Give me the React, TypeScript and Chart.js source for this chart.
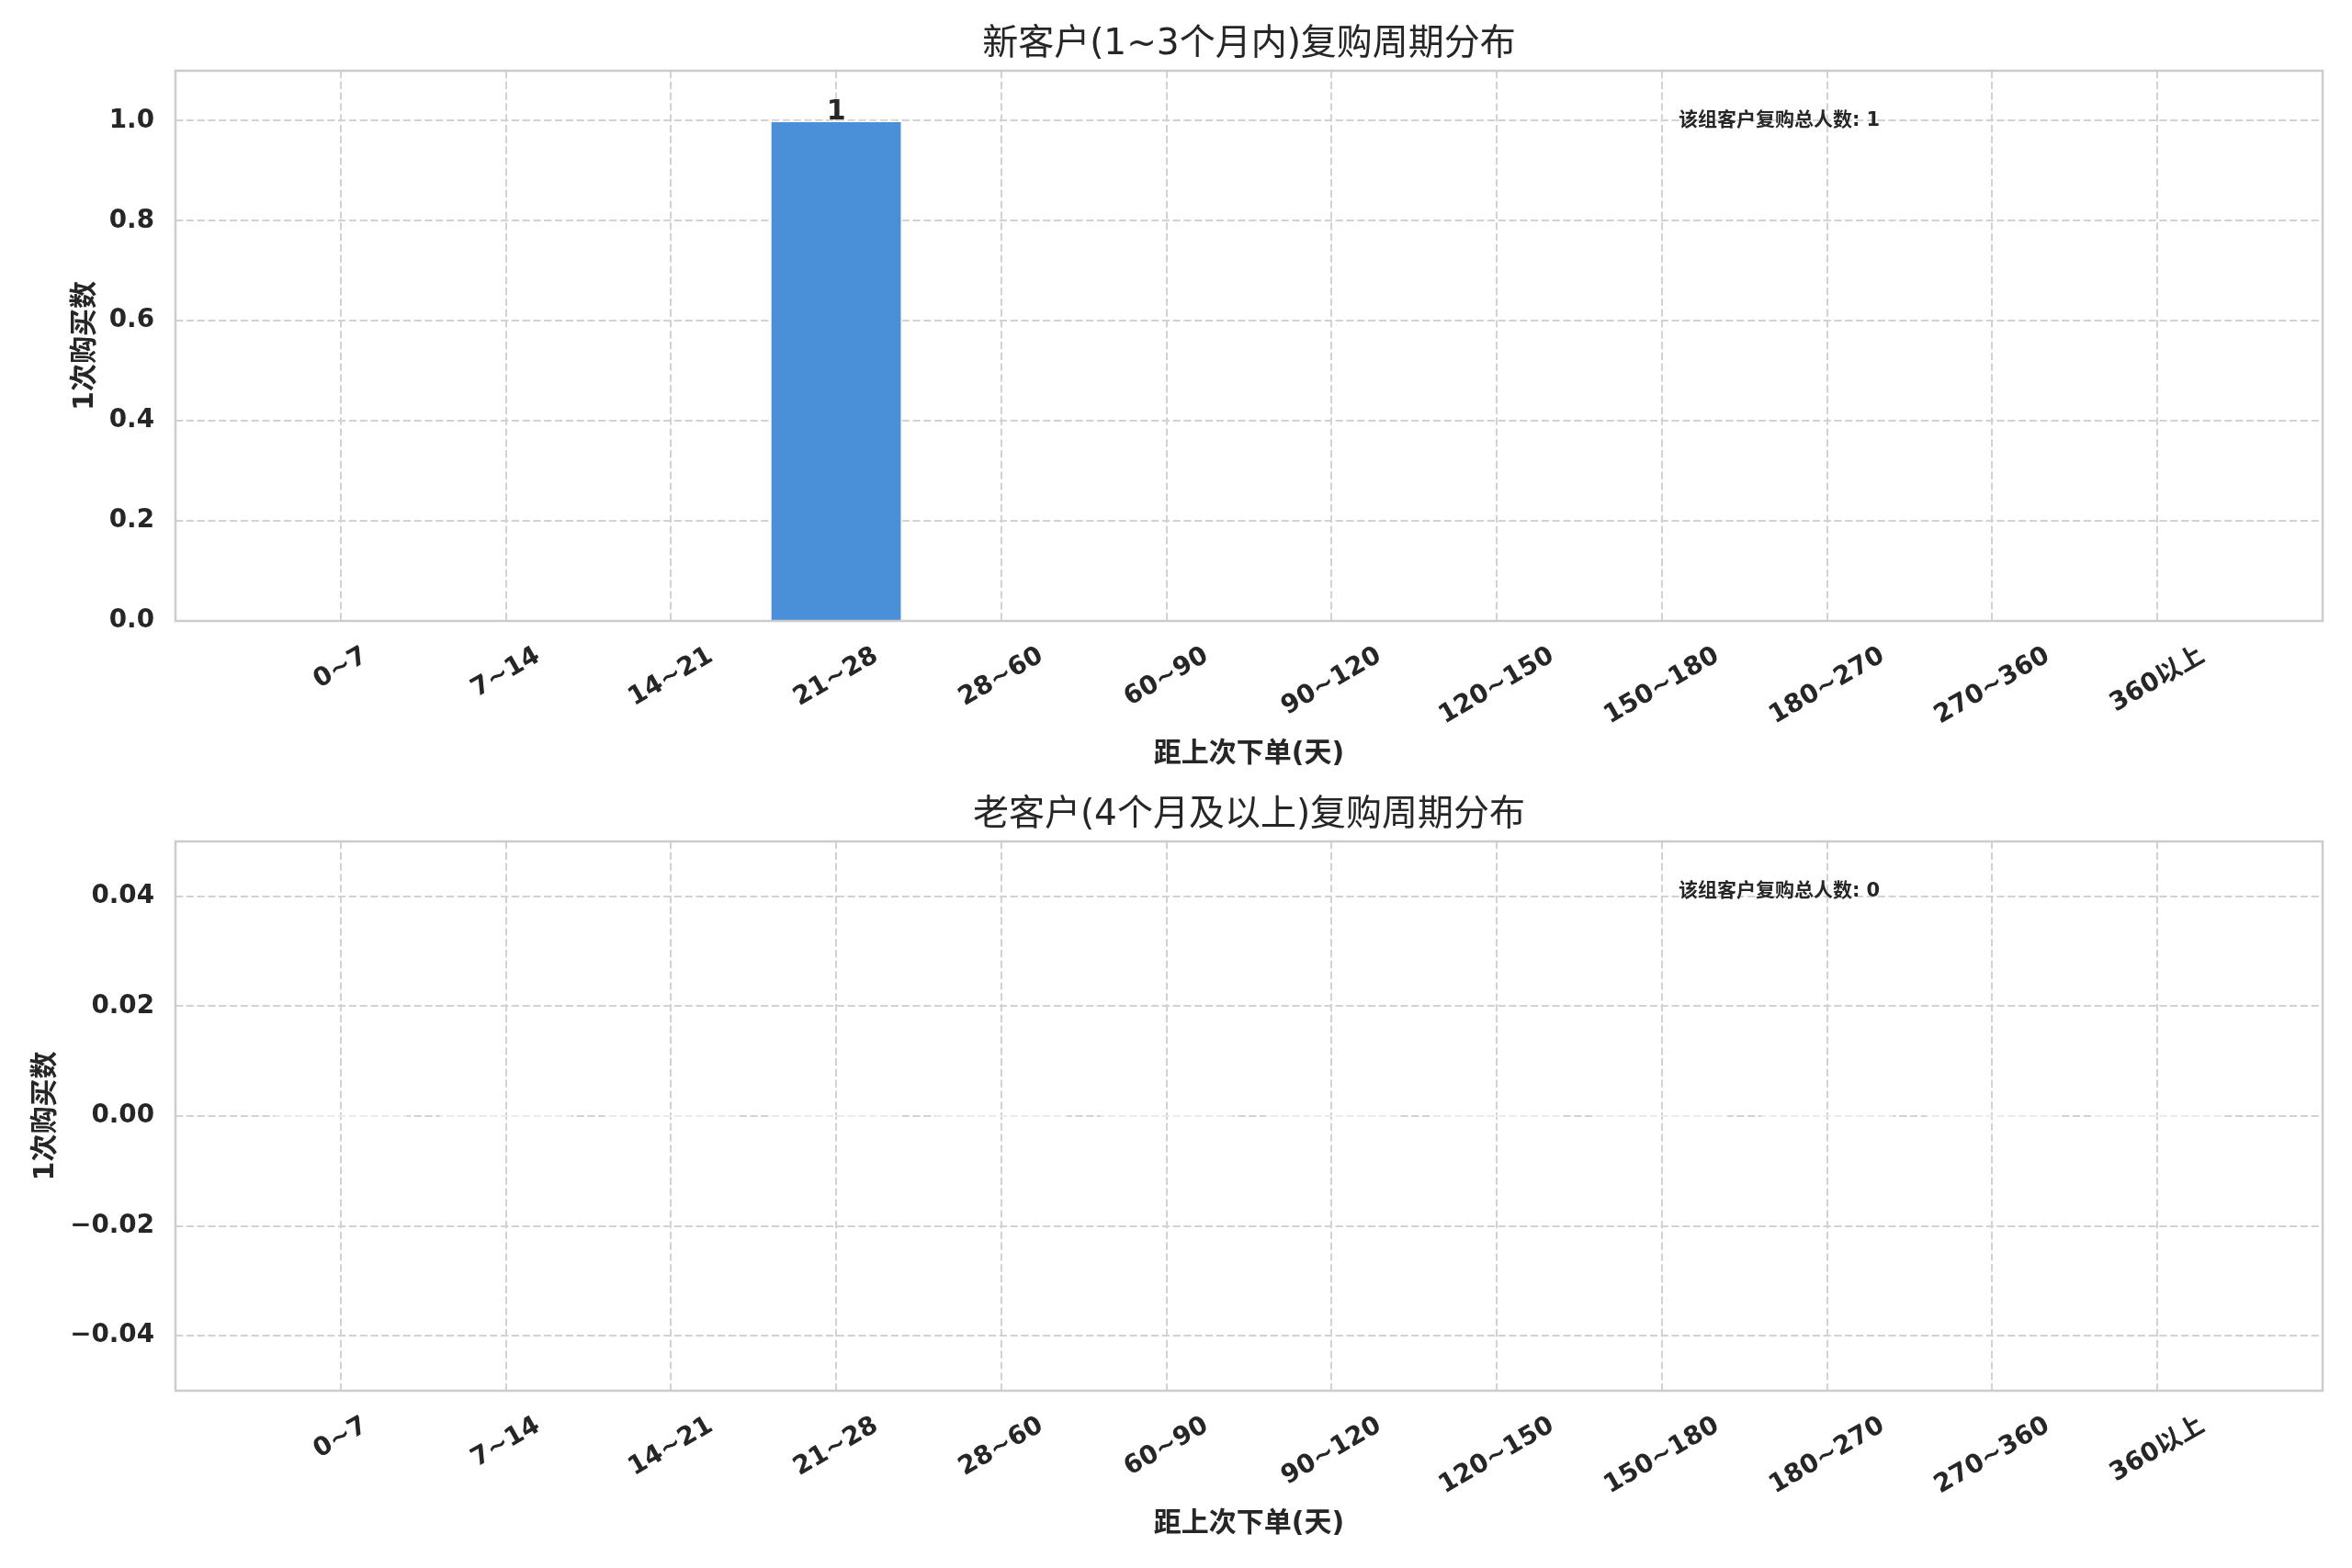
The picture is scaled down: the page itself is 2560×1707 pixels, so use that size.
import React, { useEffect, useRef } from "react";
import { Chart, registerables } from "chart.js";

Chart.register(...registerables);

// ---------- data ----------
const CATEGORIES = ["0~7", "7~14", "14~21", "21~28", "28~60", "60~90", "90~120", "120~150", "150~180", "180~270", "270~360", "360以上"];
const TOP_VALUES = [0, 0, 0, 1, 0, 0, 0, 0, 0, 0, 0, 0];
const BOTTOM_VALUES = [0, 0, 0, 0, 0, 0, 0, 0, 0, 0, 0, 0];
const TOP_Y_TICKS = [0, 0.2, 0.4, 0.6, 0.8, 1.0];
const BOTTOM_Y_TICKS = [-0.04, -0.02, 0, 0.02, 0.04];
const TOP_TITLE = "新客户(1~3个月内)复购周期分布";
const BOTTOM_TITLE = "老客户(4个月及以上)复购周期分布";
const X_LABEL = "距上次下单(天)";
const Y_LABEL = "1次购买数";
const ANNOT_LABEL = "该组客户复购总人数";
const TOP_TOTAL = 1;
const BOTTOM_TOTAL = 0;

// ---------- style ----------
const FONT = '"DejaVu Sans", "Noto Sans CJK SC", sans-serif';
const TEXT = "#262626";
const GRID = "#d2d2d2";
const SPINE = "#cccccc";
const BAR = "#4A90D9";
const W = 2560;

type PanelProps = {
  height: number;
  areaTop: number;
  areaBottom: number;
  values: number[];
  yTicks: number[];
  yMin: number;
  yMax: number;
  decimals: number;
  title: string;
  total: number;
};

function fmt(v: number, d: number) {
  return v.toFixed(d).replace("-", "\u2212");
}

function Panel(p: PanelProps) {
  const ref = useRef<HTMLCanvasElement | null>(null);
  useEffect(() => {
    if (!ref.current) return;
    const tickFont = 27.8;
    const overlay = {
      id: "overlay",
      afterDatasetsDraw(chart: any) {
        const ctx = chart.ctx;
        const area = chart.chartArea;
        const meta = chart.getDatasetMeta(0);
        ctx.save();
        meta.data.forEach((el: any, i: number) => {
          const v = p.values[i];
          if (v === 0 && el.y < area.bottom - 3) {
            ctx.strokeStyle = "rgba(255,255,255,0.75)";
            ctx.lineWidth = 1.3;
            ctx.beginPath();
            ctx.moveTo(el.x - el.width / 2, el.y);
            ctx.lineTo(el.x + el.width / 2, el.y);
            ctx.stroke();
          }
          if (v > 0) {
            ctx.fillStyle = TEXT;
            ctx.font = `bold 30px ${FONT}`;
            ctx.textAlign = "center";
            ctx.textBaseline = "alphabetic";
            ctx.fillText(String(v), el.x, el.y - 1);
          }
        });
        ctx.restore();
      },
      afterDraw(chart: any) {
        const ctx = chart.ctx;
        const area = chart.chartArea;
        const xs = chart.scales.x;
        ctx.save();
        // spines
        ctx.strokeStyle = SPINE;
        ctx.lineWidth = 2.5;
        ctx.strokeRect(area.left, area.top, area.right - area.left, area.bottom - area.top);

        ctx.fillStyle = TEXT;
        // title
        ctx.font = `39px ${FONT}`;
        ctx.textAlign = "center";
        ctx.textBaseline = "middle";
        ctx.fillText(p.title, (area.left + area.right) / 2, area.top - 28);

        // x tick labels (rotated, centered)
        ctx.font = `bold ${tickFont}px ${FONT}`;
        const ang = (30 * Math.PI) / 180;
        const h = tickFont * 1.164;
        CATEGORIES.forEach((lab, i) => {
          const x = xs.getPixelForValue(i);
          const w = ctx.measureText(lab).width;
          const bh = w * Math.sin(ang) + h * Math.cos(ang);
          const cy = area.bottom + 22 + bh / 2;
          ctx.save();
          ctx.translate(x, cy);
          ctx.rotate(-ang);
          ctx.textAlign = "center";
          ctx.textBaseline = "middle";
          ctx.fillText(lab, 0, 0);
          ctx.restore();
        });

        // x label
        ctx.font = `bold 30px ${FONT}`;
        ctx.textAlign = "center";
        ctx.textBaseline = "middle";
        ctx.fillText(X_LABEL, (area.left + area.right) / 2, area.bottom + 145);

        // y label
        ctx.font = `bold ${tickFont}px ${FONT}`;
        let maxW = 0;
        p.yTicks.forEach((v) => {
          maxW = Math.max(maxW, ctx.measureText(fmt(v, p.decimals)).width);
        });
        const yx = area.left - 23 - maxW - 26;
        ctx.save();
        ctx.translate(yx, (area.top + area.bottom) / 2);
        ctx.rotate(-Math.PI / 2);
        ctx.font = `bold 30px ${FONT}`;
        ctx.textAlign = "center";
        ctx.textBaseline = "middle";
        ctx.fillText(Y_LABEL, 0, 0);
        ctx.restore();

        // annotation
        ctx.font = `bold 21px ${FONT}`;
        ctx.textAlign = "left";
        ctx.textBaseline = "alphabetic";
        const ax = area.left + 0.7 * (area.right - area.left);
        const ay = area.bottom - 0.9 * (area.bottom - area.top);
        ctx.fillText(`${ANNOT_LABEL}: ${p.total}`, ax, ay);
        ctx.restore();
      },
    };

    const gridOpts = { color: GRID, lineWidth: 2, drawTicks: false, offset: false };
    const borderOpts = { display: false, dash: [8.2, 3.6] };

    const chart = new Chart(ref.current, {
      type: "bar",
      data: {
        datasets: [
          {
            data: p.values.map((v, i) => ({ x: i, y: v })),
            backgroundColor: BAR,
            borderColor: "#ffffff",
            borderWidth: 1.5,
            borderSkipped: "start",
            barPercentage: 0.8,
            categoryPercentage: 1,
          } as any,
        ],
      },
      options: {
        animation: false,
        responsive: false,
        devicePixelRatio: 1,
        layout: {
          padding: { top: p.areaTop, bottom: p.height - p.areaBottom, left: 0, right: 32 },
        },
        plugins: {
          legend: { display: false },
          title: { display: false },
          tooltip: { enabled: false },
        },
        scales: {
          x: {
            type: "linear",
            min: -1,
            max: 12,
            offset: false,
            afterBuildTicks: (s: any) => {
              s.ticks = CATEGORIES.map((_, i) => ({ value: i }));
            },
            afterFit: (s: any) => {
              s.height = 0;
            },
            ticks: { display: false },
            grid: gridOpts,
            border: borderOpts,
          },
          y: {
            type: "linear",
            min: p.yMin,
            max: p.yMax,
            afterBuildTicks: (s: any) => {
              s.ticks = p.yTicks.map((v) => ({ value: v }));
            },
            afterFit: (s: any) => {
              s.width = 191;
            },
            ticks: {
              callback: (v: any) => fmt(Number(v), p.decimals),
              font: { family: FONT, size: tickFont, weight: "bold" },
              color: TEXT,
              padding: 23,
            },
            grid: gridOpts,
            border: borderOpts,
          },
        },
      } as any,
      plugins: [overlay],
    });
    return () => chart.destroy();
  }, []);
  return <canvas ref={ref} width={W} height={p.height} style={{ display: "block", width: W, height: p.height }} />;
}

export default function App() {
  useEffect(() => {
    document.body.style.margin = "0";
    document.body.style.background = "#ffffff";
  }, []);
  return (
    <div style={{ width: W, height: 1707, background: "#ffffff" }}>
      <Panel
        height={853}
        areaTop={77}
        areaBottom={676}
        values={TOP_VALUES}
        yTicks={TOP_Y_TICKS}
        yMin={0}
        yMax={1.1}
        decimals={1}
        title={TOP_TITLE}
        total={TOP_TOTAL}
      />
      <Panel
        height={854}
        areaTop={63}
        areaBottom={661}
        values={BOTTOM_VALUES}
        yTicks={BOTTOM_Y_TICKS}
        yMin={-0.05}
        yMax={0.05}
        decimals={2}
        title={BOTTOM_TITLE}
        total={BOTTOM_TOTAL}
      />
    </div>
  );
}
